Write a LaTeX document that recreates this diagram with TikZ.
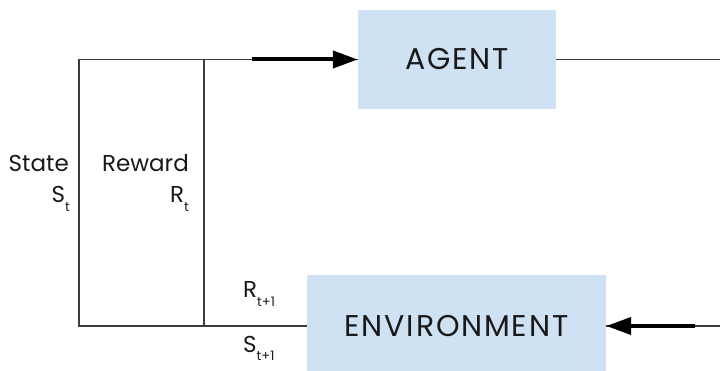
\documentclass[tikz,border=0pt]{standalone}
\usepackage{fontspec}
\setmainfont{Poppins}
\newfontfamily\blockfont[LetterSpace=6]{Poppins}
\usetikzlibrary{arrows.meta}
\definecolor{boxblue}{RGB}{207,226,243}
\definecolor{ink}{RGB}{25,25,25}
\definecolor{wirecol}{RGB}{60,60,60}
% small lowered index after a letter
\newcommand{\lowsub}[1]{\raisebox{-9pt}{\fontsize{13}{13}\selectfont #1}}
\begin{document}
\begin{tikzpicture}[x=1pt,y=-1pt,
  block/.style={fill=boxblue, draw=none, inner sep=0pt, text=ink,
    font=\blockfont\fontsize{30}{30}\selectfont},
  wire/.style={draw=wirecol, line width=1.3pt},
  bigarrow/.style={draw=black, line width=4pt,
    -{Triangle[length=25pt,width=17pt]}},
  lbl/.style={font=\fontsize{23}{23}\selectfont, text=ink, inner sep=0pt}]
\useasboundingbox (0,0) rectangle (720,371);

% the two blocks
\node[block, minimum width=198pt, minimum height=99pt] (agent) at (457,59.5) {AGENT};
\node[block, minimum width=299pt, minimum height=102pt] (env) at (456.5,326) {ENVIRONMENT};

% corners of the feedback loop
\coordinate (tl) at (79,59.5);
\coordinate (tm) at (204,59.5);
\coordinate (bl) at (79,326);
\coordinate (bm) at (204,326);
\coordinate (tr) at (720,59.5);
\coordinate (br) at (720,326);
\coordinate (a1) at (252,59.5);
\coordinate (a2) at (695,326);

% thin loop wires
\draw[wire] (agent.east) -- (tr);
\draw[wire] (agent.west) -- (tl) -- (bl) -- (env.west);
\draw[wire] (tm) -- (bm);
\draw[wire] (br) -- (env.east);

% heavy arrows into the blocks
\draw[bigarrow] (a1) -- (agent.west);
\draw[bigarrow] (a2) -- (env.east);

% labels
\node[lbl, anchor=base east] (state) at (69,172) {State};
\node[lbl, anchor=base east] (st) at (70,203) {S\lowsub{t}};
\node[lbl, anchor=base east] (reward) at (189,172) {Reward};
\node[lbl, anchor=base east] (rt) at (189,203) {R\lowsub{t}};
\node[lbl, anchor=base west] (rt1) at (243,298) {R\lowsub{t+1}};
\node[lbl, anchor=base west] (st1) at (243,352) {S\lowsub{t+1}};
\end{tikzpicture}
\end{document}
